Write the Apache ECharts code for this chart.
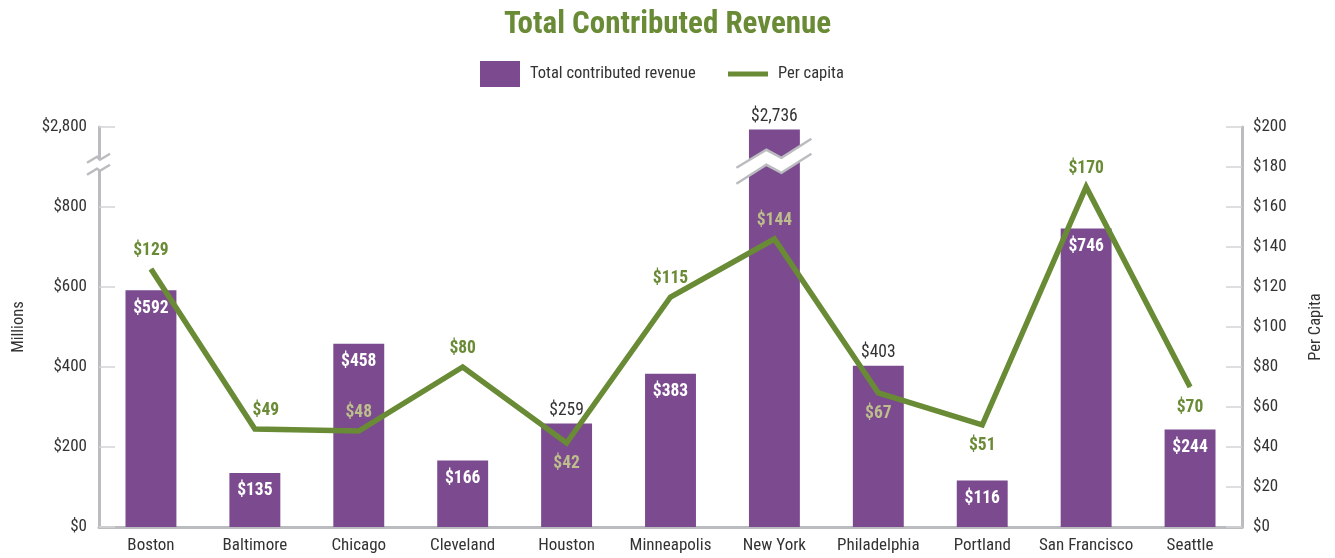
<!DOCTYPE html>
<html><head><meta charset="utf-8">
<script src="https://cdn.jsdelivr.net/npm/echarts@6/dist/echarts.min.js"></script>
<style>html,body{margin:0;padding:0;background:#fff}#c{width:1335px;height:558px}</style>
</head><body><div id="c"></div>
<script>
const categories = ['Boston','Baltimore','Chicago','Cleveland','Houston','Minneapolis','New York','Philadelphia','Portland','San Francisco','Seattle'];
const revenue = [592,135,458,166,259,383,2736,403,116,746,244];
const perCapita = [129,49,48,80,42,115,144,67,51,170,70];

const FONT = "'Roboto Condensed','Open Sans',sans-serif";
const PURPLE = '#7b4a8f', GREEN = '#6a8b36', TAN = '#bdbe8c', GRAY = '#bbbcbf', TXT = '#333';

// axis break: values above 800 are compressed so that 2800 sits where 1000 would be
const BREAK_LO = 800, BREAK_HI = 2800;
function toDisplay(v){ return v <= BREAK_LO ? v : BREAK_LO + (v - BREAK_LO) * 200 / (BREAK_HI - BREAK_LO); }
function tickText(d){ return d <= BREAK_LO ? d : BREAK_LO + (d - BREAK_LO) * (BREAK_HI - BREAK_LO) / 200; }
function money(v){ return '$' + v.toLocaleString('en-US'); }

// label styling decisions
const barLabelAbove = new Set(['New York','Houston','Philadelphia']);
const lineLabelBelow = new Set(['Houston','Philadelphia','Portland','Seattle']);
const lineLabelInBar = new Set(['Chicago','Houston','New York','Philadelphia']);
const lineLabelShift = {'Baltimore':[11,0]};

const barData = revenue.map((v,i)=>{
  const above = barLabelAbove.has(categories[i]);
  return {value: toDisplay(v), label: above
    ? {position:'top', distance:4, color:TXT, fontWeight:'normal'}
    : {position:'insideTop', distance:9, color:'#fff', fontWeight:'bold'}};
});
const lineData = perCapita.map((v,i)=>{
  const c = categories[i];
  return {value:v, label:{position: lineLabelBelow.has(c)?'bottom':'top', distance: lineLabelBelow.has(c)?11:9,
    offset: lineLabelShift[c] || [0,0], color: lineLabelInBar.has(c)?TAN:GREEN}};
});

const chart = echarts.init(document.getElementById('c'), null, {renderer:'canvas'});
chart.setOption({
  animation:false,
  textStyle:{fontFamily:FONT},
  title:{text:'Total Contributed Revenue', left:'center', top:5,
    textStyle:{fontFamily:FONT, fontSize:31, fontWeight:'bold', color:GREEN}},
  legend:[
    {data:['Total contributed revenue'], left:480, top:61, padding:0, itemWidth:40, itemHeight:26, icon:'rect',
      textStyle:{fontFamily:FONT, fontSize:16.5, color:TXT, padding:[0,0,0,5]}},
    {data:['Per capita'], left:728, top:63, padding:0, itemWidth:40, itemHeight:5, icon:'rect',
      textStyle:{fontFamily:FONT, fontSize:16.5, color:TXT, padding:[0,0,0,5], lineHeight:22}}
  ],
  grid:{left:99, right:93, top:127, bottom:31, containLabel:false, outerBoundsMode:'none'},
  xAxis:{type:'category', data:categories,
    axisLine:{lineStyle:{color:GRAY, width:3}}, axisTick:{show:false},
    axisLabel:{fontFamily:FONT, fontSize:17, color:TXT, margin:10, interval:0}},
  yAxis:[
    {type:'value', min:0, max:1000, interval:200, name:'Millions', nameLocation:'middle', nameGap:72, nameRotate:90,
      nameTextStyle:{fontFamily:FONT, fontSize:16.5, color:TXT},
      axisLine:{show:true, lineStyle:{color:GRAY, width:3}},
      axisTick:{show:true, inside:true, length:16, lineStyle:{color:'#d4d4d6', width:1.5}},
      splitLine:{show:false},
      axisLabel:{fontFamily:FONT, fontSize:17, color:TXT, margin:12, formatter:v=>money(tickText(v))}},
    {type:'value', min:0, max:200, interval:20, name:'Per Capita', nameLocation:'middle', nameGap:65, nameRotate:90,
      nameTextStyle:{fontFamily:FONT, fontSize:16.5, color:TXT},
      axisLine:{show:true, lineStyle:{color:GRAY, width:3}},
      axisTick:{show:true, inside:true, length:16, lineStyle:{color:'#d4d4d6', width:1.5}},
      splitLine:{show:false},
      axisLabel:{fontFamily:FONT, fontSize:17, color:TXT, margin:11, formatter:v=>'$'+v}}
  ],
  series:[
    {name:'Total contributed revenue', type:'bar', data:barData, barWidth:'49%', yAxisIndex:0,
      itemStyle:{color:PURPLE},
      label:{show:true, fontFamily:FONT, fontSize:17.5, formatter:p=>money(revenue[p.dataIndex])}, z:2},
    {name:'Per capita', type:'line', data:lineData, yAxisIndex:1, symbol:'circle', symbolSize:1,
      itemStyle:{color:GREEN}, lineStyle:{color:GREEN, width:5.5, join:'miter'},
      label:{show:true, fontFamily:FONT, fontSize:17.5, fontWeight:'bold', formatter:p=>'$'+p.value}, z:3}
  ]
});

// break zigzag decoration on the left axis and on the New York bar
const yc = chart.convertToPixel({yAxisIndex:0}, 908);
const step = chart.convertToPixel({xAxisIndex:0}, categories[1]) - chart.convertToPixel({xAxisIndex:0}, categories[0]);
const axisX = chart.convertToPixel({xAxisIndex:0}, categories[0]) - step/2;
const nyX = chart.convertToPixel({xAxisIndex:0}, 'New York');
function zig(cx, cy, top, bot){
  const T = top.map(p=>[cx+p[0], cy+p[1]]), B = bot.map(p=>[cx+p[0], cy+p[1]]);
  return [
    {type:'polygon', z:100, shape:{points:T.concat(B.slice().reverse())}, style:{fill:'#fff'}},
    {type:'polyline', z:101, shape:{points:T}, style:{stroke:GRAY, lineWidth:2.5, fill:null}},
    {type:'polyline', z:101, shape:{points:B}, style:{stroke:GRAY, lineWidth:2.5, fill:null}}
  ];
}
const g = [].concat(
  zig(axisX, yc, [[-12,-1],[-2,-7],[1,-4],[11,-10]], [[-12,11],[-2,5],[1,7],[11,1]]),
  zig(nyX, yc-3, [[-38,7],[-8,-11],[7,-3],[37,-22]], [[-38,23],[-8,4],[7,12],[37,-7]])
);
chart.setOption({graphic:g});
</script></body></html>
